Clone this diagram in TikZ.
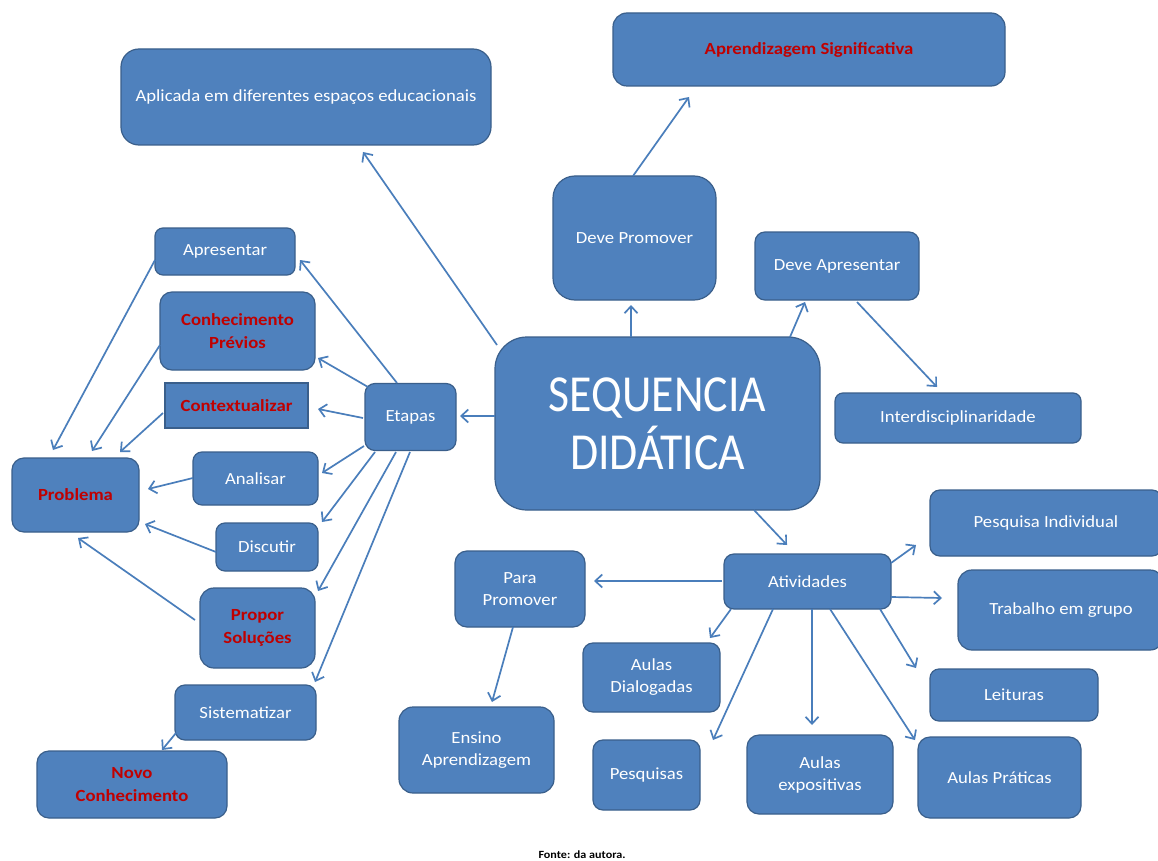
\documentclass[tikz,border=0pt]{standalone}
\usepackage{fontspec}
\setmainfont{Carlito}[FakeStretch=1.1]
\newfontfamily\bigf{Carlito}[FakeStretch=0.88]
\usetikzlibrary{arrows.meta,calc}
\definecolor{boxfill}{HTML}{4F81BD}
\definecolor{boxline}{HTML}{3A5F8B}
\definecolor{arrcol}{HTML}{4A7EBB}
\definecolor{redtxt}{HTML}{C00000}
\newcommand\conn[4]{\draw[arr] ($(#1)+(#2)$) -- ($(#3)+(#4)$);}
\begin{document}
\begin{tikzpicture}[x=1pt,y=-1pt,
  box/.style={draw=boxline, fill=boxfill, line width=1.2pt, text=white, align=center,
    inner sep=0pt, font=\fontsize{17}{22}\selectfont},
  redbox/.style={box, text=redtxt, font=\fontsize{17}{23}\selectfont\bfseries},
  sz/.style n args={3}{minimum width=#1pt, minimum height=#2pt, rounded corners=#3pt},
  arr/.style={draw=arrcol, line width=1.7pt, -{Straight Barb[length=7pt,width=13pt]}}]
\fill[white] (0,0) rectangle (1158,861);
\useasboundingbox (0,0) rectangle (1158,861);

% nodes
\node[box, sz={370}{96}{18}] (apl) at (306,97) {Aplicada em diferentes espaços educacionais};
\node[redbox, sz={392}{73}{14}] (asig) at (809,49.5) {Aprendizagem Significativa};
\node[box, sz={163}{124}{22}] (dprom) at (634.5,238) {Deve Promover};
\node[box, sz={164}{68}{10}] (dapr) at (837,266) {Deve Apresentar};
\node[box, sz={246}{50}{8}] (inter) at (958,418) {Interdisciplinaridade};
\node[box, sz={325}{173}{32}, font=\bigf\fontsize{52}{58}\selectfont] (seq) at (657.5,423.5) {SEQUENCIA\\DIDÁTICA};
\node[box, sz={91}{67}{10}] (etapas) at (410.5,417) {Etapas};
\node[box, sz={140}{47}{8}] (apres) at (225,251.5) {Apresentar};
\node[redbox, sz={155}{78}{12}] (conh) at (237.5,331) {Conhecimento\\Prévios};
\node[redbox, sz={143}{45}{0}] (ctx) at (236.5,405.5) {Contextualizar};
\node[redbox, sz={127}{74}{12}] (prob) at (75.5,495) {Problema};
\node[box, sz={125}{53}{9}] (anal) at (255.5,478.5) {Analisar};
\node[box, sz={102}{48}{9}] (disc) at (267,547) {Discutir};
\node[redbox, sz={115}{80}{14}] (prop) at (257.5,628) {Propor\\Soluções};
\node[box, sz={141}{55}{10}] (sist) at (245.5,712.5) {Sistematizar};
\node[redbox, sz={190}{67}{12}] (novo) at (132,784.5) {Novo\\Conhecimento};
\node[box, sz={130}{76}{12}] (para) at (520,589) {Para\\Promover};
\node[box, sz={155}{86}{14}] (ensino) at (476.5,750) {Ensino\\Aprendizagem};
\node[box, sz={167}{55}{10}] (ativ) at (807.5,581.5) {Atividades};
\node[box, sz={232}{66}{10}] (pind) at (1046,523) {Pesquisa Individual};
\node[box, sz={206}{80}{14}] (trab) at (1061,610) {Trabalho em grupo};
\node[box, sz={168}{52}{9}] (leit) at (1014,695) {Leituras};
\node[box, sz={137}{69}{10}] (adial) at (651.5,677.5) {Aulas\\Dialogadas};
\node[box, sz={107}{70}{10}] (pesq) at (646.5,775) {Pesquisas};
\node[box, sz={146}{79}{12}] (aexp) at (820,774.5) {Aulas\\expositivas};
\node[box, sz={163}{81}{12}] (aprat) at (999.5,777.5) {Aulas Práticas};
\node[font=\fontsize{11}{13}\selectfont\bfseries, text=black, inner sep=0pt] (fonte) at (582,855) {Fonte: da autora.};

% connectors
\conn{seq}{-160.5,-78.5}{apl}{57,55}
\conn{seq}{-26.5,-86.5}{dprom}{-3.5,67}
\conn{dprom}{-1.5,-62}{asig}{-120,47.5}
\conn{seq}{132.5,-86.5}{dapr}{-32,36}
\conn{dapr}{20,36}{inter}{-21,-31}
\conn{seq}{96.5,86.5}{ativ}{-20.5,-36.5}
\conn{seq}{-162.5,-7.5}{etapas}{49.5,-1}
\conn{etapas}{-13.5,-34}{apres}{75,8.5}
\conn{etapas}{-42.5,-30}{conh}{80.5,27}
\conn{etapas}{-47.5,1}{ctx}{81.5,3.5}
\conn{etapas}{-46.5,29}{anal}{66.5,-5.5}
\conn{etapas}{-35.5,35}{disc}{55,-25}
\conn{etapas}{-14.5,35}{prop}{60.5,-37}
\conn{etapas}{-0.5,35}{sist}{69.5,-30.5}
\conn{apres}{-70,8.5}{prob}{-22.5,-45}
\conn{conh}{-77.5,14}{prob}{16.5,-44}
\conn{ctx}{-73.5,7.5}{prob}{44.5,-43}
\conn{anal}{-62.5,-0.5}{prob}{72.5,-6}
\conn{disc}{-51,5}{prob}{69.5,29}
\conn{prop}{-62.5,-8}{prob}{2.5,43}
\conn{sist}{-69.5,20.5}{novo}{30,-34.5}
\conn{ativ}{-85.5,-0.5}{para}{74,-8}
\conn{para}{-7,38}{ensino}{15.5,-48}
\conn{ativ}{83.5,-18.5}{pind}{-130,22}
\conn{ativ}{83.5,15.5}{trab}{-119,-12}
\conn{ativ}{72.5,27.5}{leit}{-98,-27}
\conn{ativ}{-76.5,27.5}{adial}{58.5,-39.5}
\conn{ativ}{-34.5,27.5}{pesq}{66.5,-35}
\conn{ativ}{4.5,27.5}{aexp}{-8,-49.5}
\conn{ativ}{22.5,27.5}{aprat}{-84.5,-37.5}
\end{tikzpicture}
\end{document}
